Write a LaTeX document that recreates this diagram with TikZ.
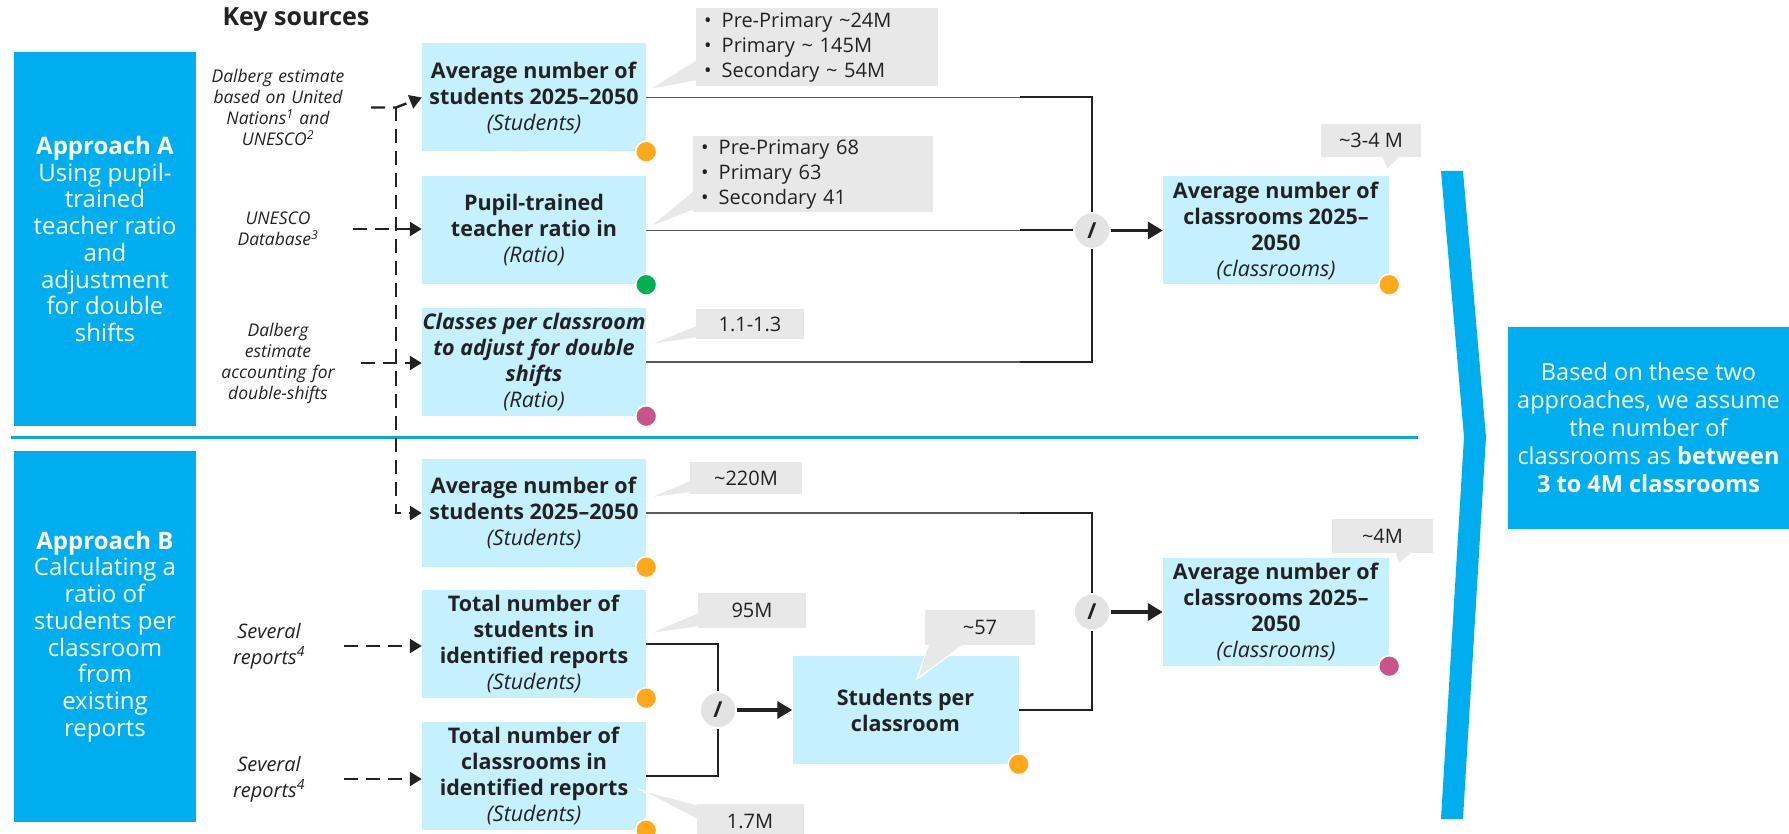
\documentclass[tikz,border=0pt]{standalone}
\usepackage{fontspec}
\setmainfont{Open Sans}
\usetikzlibrary{arrows.meta,calc}
\definecolor{apblue}{HTML}{00AEEF}
\definecolor{boxcyan}{HTML}{C4F1FD}
\definecolor{callgray}{HTML}{E8E8E8}
\definecolor{opgray}{HTML}{E3E3E3}
\definecolor{divline}{HTML}{0BA8CF}
\definecolor{feedgray}{HTML}{5A5A5A}
\definecolor{ink}{HTML}{222222}
\definecolor{dotorange}{HTML}{FFA81A}
\definecolor{dotgreen}{HTML}{00B050}
\definecolor{dotpink}{HTML}{C8558A}
\begin{document}
\begin{tikzpicture}[x=1pt,y=-1pt,
  approach/.style={fill=apblue,text=white,align=center,inner sep=0pt,
    minimum width=182pt,font=\fontsize{24}{26.7}\selectfont},
  metric/.style={fill=boxcyan,text=ink,align=center,inner sep=0pt,
    minimum width=224pt,minimum height=108pt,font=\fontsize{21.5}{26}\selectfont},
  srctext/.style={text=ink,align=center,inner sep=0pt,text width=150pt,
    font=\itshape\fontsize{17.5}{21}\selectfont},
  note/.style={fill=callgray,text=ink,inner sep=0pt,align=center,
    font=\fontsize{20}{25}\selectfont},
  tail/.style={fill=callgray,draw=white,line width=1.2pt},
  divop/.style={circle,fill=opgray,draw=white,line width=1.5pt,minimum size=36pt,
    inner sep=0pt,text=ink,font=\bfseries\fontsize{22}{22}\selectfont},
  feed/.style={draw=feedgray,line width=1.6pt},
  bracket/.style={draw=ink,line width=2pt},
  result/.style={-{Triangle[length=15pt,width=17pt]},draw=ink,line width=3.4pt},
  srcarrow/.style={-{Triangle[length=12pt,width=14pt]},draw=ink,line width=2.4pt,
    dash pattern=on 14pt off 8pt},
  flagdot/.style={circle,draw=white,line width=1.5pt,minimum size=21pt,inner sep=0pt},
]
\useasboundingbox (0,0) rectangle (1789,834);

\node[text=ink,font=\bfseries\fontsize{25}{25}\selectfont] (keysrc) at (296,20) {Key sources};

% the two approaches
\node[approach,minimum height=374pt] (appA) at (105,239)
  {\textbf{Approach A}\\Using pupil-\\trained\\teacher ratio\\and\\adjustment\\for double\\shifts};
\node[approach,minimum height=371pt] (appB) at (105,636.5)
  {\textbf{Approach B}\\Calculating a\\ratio of\\students per\\classroom\\from\\existing\\reports};
\draw[divline,line width=3pt] (11,437) -- (1418,437);

% sources
\node[srctext] (srcU) at (278,107.5) {Dalberg estimate\\based on United\\Nations\textsuperscript{1} and\\UNESCO\textsuperscript{2}};
\node[srctext] (srcD) at (278,229) {UNESCO\\Database\textsuperscript{3}};
\node[srctext] (srcS) at (278,363) {Dalberg\\estimate\\accounting for\\double-shifts};
\node[srctext,font=\itshape\fontsize{20}{26}\selectfont] (srcR1) at (269,646) {Several\\reports\textsuperscript{4}};
\node[srctext,font=\itshape\fontsize{20}{26}\selectfont] (srcR2) at (269,779) {Several\\reports\textsuperscript{4}};

% inputs
\node[metric] (stuA) at (534,97.5) {\textbf{Average number of}\\\textbf{students 2025–2050}\\\textit{(Students)}};
\node[metric] (ptr) at (534,230.5) {\textbf{Pupil-trained}\\\textbf{teacher ratio in}\\\textit{(Ratio)}};
\node[metric] (cls) at (534,362) {\textbf{\textit{Classes per classroom}}\\\textbf{\textit{to adjust for double}}\\\textbf{\textit{shifts}}\\\textit{(Ratio)}};
\node[metric] (stuB) at (534,513) {\textbf{Average number of}\\\textbf{students 2025–2050}\\\textit{(Students)}};
\node[metric] (totS) at (534,644) {\textbf{Total number of}\\\textbf{students in}\\\textbf{identified reports}\\\textit{(Students)}};
\node[metric] (totC) at (534,776) {\textbf{Total number of}\\\textbf{classrooms in}\\\textbf{identified reports}\\\textit{(Students)}};

% results
\node[metric,minimum width=226pt] (spc) at (905.5,710) {\textbf{Students per}\\\textbf{classroom}};
\node[metric,minimum width=226pt] (clsA) at (1276,230.5) {\textbf{Average number of}\\\textbf{classrooms 2025–}\\\textbf{2050}\\\textit{(classrooms)}};
\node[metric,minimum width=226pt] (clsB) at (1276,612) {\textbf{Average number of}\\\textbf{classrooms 2025–}\\\textbf{2050}\\\textit{(classrooms)}};

\node[divop] (divA) at (1092,230.5) {/};
\node[divop] (divB) at (1092,612) {/};
\node[divop] (divC) at (718,710) {/};

% dashed source links
\coordinate (fork) at (396,107.5);
\draw[srcarrow,shorten <=18pt] (srcU.east) -- (fork) -- (stuA.west);
\draw[srcarrow] (fork) |- (stuB.west);
\draw[srcarrow] (srcD.east) -- (srcD.east -| ptr.west);
\draw[srcarrow,shorten <=8pt] (srcS.east) -- (srcS.east -| cls.west);
\draw[srcarrow] (srcR1.east) -- (srcR1.east -| totS.west);
\draw[srcarrow] (srcR2.east) -- (srcR2.east -| totC.west);

% approach A
\coordinate (jA) at (1020,0);
\draw[feed] (stuA.east) -- (stuA.east -| jA);
\draw[bracket] (stuA.east -| jA) -| (divA);
\draw[feed] (ptr.east) -- (ptr.east -| jA);
\draw[bracket] (ptr.east -| jA) -- (divA);
\draw[feed] (cls.east) -- (cls.east -| jA);
\draw[bracket] (cls.east -| jA) -| (divA);
\draw[result] (divA) -- (clsA);

% approach B
\draw[feed] (stuB.east) -- (stuB.east -| jA);
\draw[bracket] (stuB.east -| jA) -| (divB);
\draw[bracket] (spc.east) -| (divB);
\draw[result] (divB) -- (clsB);
\draw[bracket] (totS.east) -| (divC);
\draw[bracket] (totC.east) -| (divC);
\draw[result] (divC) -- (spc);

% callouts
\fill[tail] (702,56) -- (702,80) -- (648,90) -- cycle;
\fill[tail] (699,186) -- (699,208) -- (648,228) -- cycle;
\fill[tail] (702,323) -- (702,337) -- (648,345) -- cycle;
\fill[tail] (696,478) -- (696,492) -- (648,498) -- cycle;
\fill[tail] (704,610) -- (704,626) -- (648,634) -- cycle;
\fill[tail] (702,806) -- (702,822) -- (641,790) -- cycle;
\fill[tail] (930,640) -- (970,640) -- (917,679) -- cycle;
\fill[tail] (1380,152) -- (1405,152) -- (1387,170) -- cycle;
\fill[tail] (1393,548) -- (1418,548) -- (1399,564) -- cycle;

\node[note,anchor=north west,text width=226pt,inner xsep=8pt,minimum height=78pt,align=left] (nStuA) at (696,8)
  {\textbullet\enspace Pre-Primary \textasciitilde24M\\\textbullet\enspace Primary \textasciitilde{} 145M\\\textbullet\enspace Secondary \textasciitilde{} 54M};
\node[note,anchor=north west,text width=224pt,inner xsep=8pt,minimum height=76pt,align=left] (nPtr) at (693,136)
  {\textbullet\enspace Pre-Primary 68\\\textbullet\enspace Primary 63\\\textbullet\enspace Secondary 41};
\node[note,minimum width=108pt,minimum height=30pt] (nCls) at (750,324) {1.1-1.3};
\node[note,minimum width=112pt,minimum height=32pt] (nStuB) at (746,478) {\textasciitilde220M};
\node[note,minimum width=108pt,minimum height=35pt] (nTotS) at (752,610.5) {95M};
\node[note,minimum width=107pt,minimum height=34pt] (nTotC) at (750,821) {1.7M};
\node[note,minimum width=110pt,minimum height=35pt] (nSpc) at (980,627.5) {\textasciitilde57};
\node[note,minimum width=100pt,minimum height=33pt] (nClsA) at (1371,140.5) {\textasciitilde3-4 M};
\node[note,minimum width=101pt,minimum height=34pt] (nClsB) at (1382.5,536) {\textasciitilde4M};

% source quality flags
\foreach \b/\c in {stuA/dotorange,ptr/dotgreen,cls/dotpink,stuB/dotorange,totS/dotorange,
    totC/dotorange,spc/dotorange,clsA/dotorange,clsB/dotpink}
  \node[flagdot,fill=\c] (flag-\b) at (\b.south east) {};

% conclusion
\fill[apblue] (1441,171) -- (1463,171) -- (1486,437) -- (1463,819) -- (1441,819) -- (1464,437) -- cycle;
\node[approach,minimum width=281pt,minimum height=202pt,font=\fontsize{23.5}{28}\selectfont] (concl) at (1648.5,428)
  {Based on these two\\approaches, we assume\\the number of\\classrooms as \textbf{between}\\\textbf{3 to 4M classrooms}};
\end{tikzpicture}
\end{document}
